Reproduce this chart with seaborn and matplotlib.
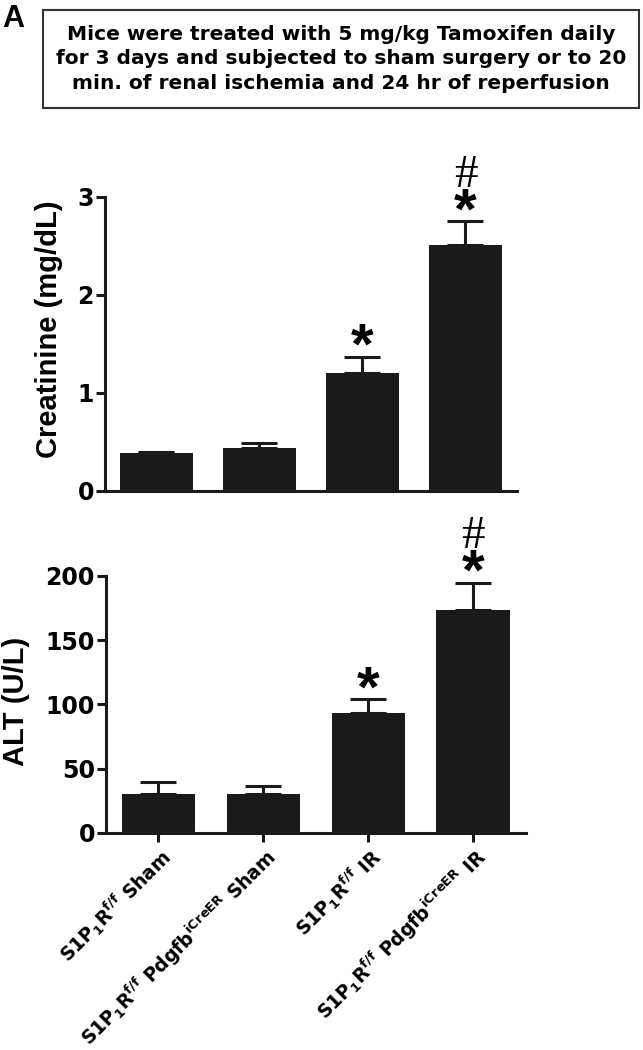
import numpy as np
import matplotlib
matplotlib.use("Agg")
import matplotlib.pyplot as plt
from matplotlib.patches import Rectangle
import seaborn as sns

# Data
groups = [
    "S1P$_1$R$^{f/f}$ Sham",
    "S1P$_1$R$^{f/f}$ Pdgfb$^{iCreER}$ Sham",
    "S1P$_1$R$^{f/f}$ IR",
    "S1P$_1$R$^{f/f}$ Pdgfb$^{iCreER}$ IR",
]
creatinine = [0.38, 0.44, 1.20, 2.51]
creatinine_sem = [0.02, 0.05, 0.17, 0.24]
alt = [30.5, 30.5, 93.5, 173.5]
alt_sem = [9.5, 6.0, 10.5, 21.0]
star_marks = ["", "", "*", "*"]
hash_marks = ["", "", "", "#"]

title_text = ("Mice were treated with 5 mg/kg Tamoxifen daily\n"
              "for 3 days and subjected to sham surgery or to 20\n"
              "min. of renal ischemia and 24 hr of reperfusion")

sns.set_style("ticks")
plt.rcParams["font.family"] = ["DejaVu Sans"]
plt.rcParams["font.weight"] = "bold"
plt.rcParams["mathtext.fontset"] = "dejavusans"
plt.rcParams["mathtext.default"] = "bf"
plt.rcParams["text.color"] = "black"
plt.rcParams["axes.labelcolor"] = "black"
plt.rcParams["xtick.color"] = "black"
plt.rcParams["ytick.color"] = "black"

bar_color = "#1a1a1a"
lw = 2.2

fig = plt.figure(figsize=(6.43, 10.5), dpi=100)
ax1 = fig.add_axes([0.1633, 0.5327, 0.6407, 0.2797])
ax2 = fig.add_axes([0.1649, 0.2067, 0.6524, 0.2448])


def draw_panel(ax, values, sems, yticks):
    sns.barplot(x=groups, y=values, color=bar_color, saturation=1, width=0.7,
                errorbar=None, linewidth=0, ax=ax)
    xs = np.arange(len(values))
    ax.errorbar(xs, values, yerr=[np.zeros(len(sems)), sems], fmt="none",
                ecolor=bar_color, elinewidth=lw, capsize=13, capthick=lw)
    ax.set_xlim(-0.5, len(values) - 0.5)
    ax.set_ylim(yticks[0], yticks[-1])
    ax.set_yticks(yticks)
    ax.set_yticklabels([str(t) for t in yticks], fontsize=17, fontweight="bold")
    for s in ["top", "right"]:
        ax.spines[s].set_visible(False)
    for s in ["left", "bottom"]:
        ax.spines[s].set_linewidth(lw)
        ax.spines[s].set_color(bar_color)
    ax.tick_params(axis="y", length=6.5, width=lw, pad=1.5, color=bar_color)
    ax.set_xlabel("")
    ax.set_ylabel("")
    # significance marks
    for x, v, e, st, hs in zip(xs, values, sems, star_marks, hash_marks):
        if st:
            ax.annotate(st, xy=(x, v + e), xytext=(0, -5),
                        textcoords="offset points", ha="center", va="baseline",
                        fontsize=42, fontweight="bold", family="Liberation Sans",
                        annotation_clip=False)
        if hs:
            ax.annotate(hs, xy=(x, v + e), xytext=(0, 25),
                        textcoords="offset points", ha="center", va="baseline",
                        fontsize=34, fontweight="normal", family="Liberation Serif",
                        annotation_clip=False)


draw_panel(ax1, creatinine, creatinine_sem, [0, 1, 2, 3])
ax1.tick_params(axis="x", length=0, labelbottom=False)

draw_panel(ax2, alt, alt_sem, [0, 50, 100, 150, 200])
ax2.tick_params(axis="x", length=6.5, width=lw, color=bar_color, pad=2)
ax2.set_xticks(range(len(groups)))
ax2.set_xticklabels(groups, rotation=45, ha="right", va="top",
                    rotation_mode="anchor", fontsize=13.5, fontweight="bold")

fig.text(49 / 643, 1 - 329.5 / 1050, "Creatinine (mg/dL)", rotation=90,
         ha="center", va="center", fontsize=21, fontweight="bold",
         family="Liberation Sans")
fig.text(16 / 643, 1 - 701 / 1050, "ALT (U/L)", rotation=90,
         ha="center", va="center", fontsize=21, fontweight="bold",
         family="Liberation Sans")

# header box
fig.patches.append(Rectangle((43 / 643, 1 - 108 / 1050), 596 / 643, 98 / 1050,
                             transform=fig.transFigure, fill=False,
                             edgecolor="#333333", linewidth=1.5))
fig.text(341 / 643, 1 - 59 / 1050, title_text, ha="center", va="center",
         multialignment="center", fontsize=14.5, fontweight="bold",
         linespacing=1.35)
fig.text(0.004, 1 - 4 / 1050, "A", ha="left", va="top", fontsize=22,
         fontweight="bold", family="Liberation Sans")

fig.savefig("out.png", dpi=100)
